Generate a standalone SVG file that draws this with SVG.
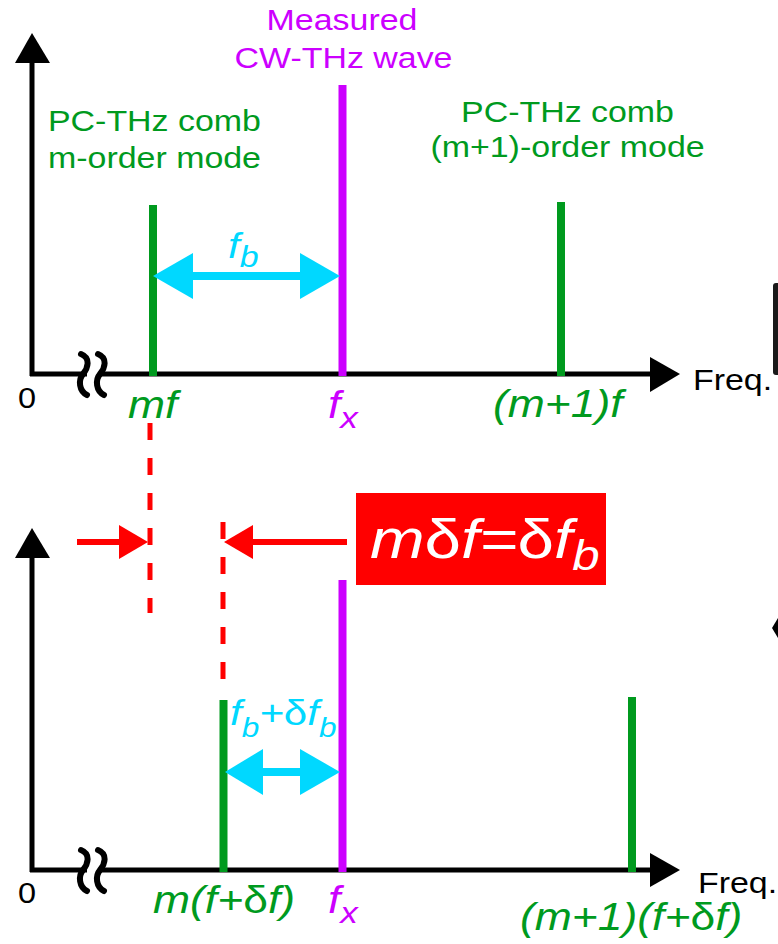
<svg xmlns="http://www.w3.org/2000/svg" width="778" height="944" viewBox="0 0 778 944">
<style>
text{font-family:"Liberation Sans",Arial,sans-serif}
.lbl{font-size:29px}
.it{font-style:italic}
.up{font-style:normal}
.g{fill:#009a1e}
.mg{fill:#cc00ff}
.cy{fill:#00d8ff}
.k{fill:#000}
.w{fill:#fff}
.ax{stroke:#000;stroke-width:5;fill:none}
.brk{stroke:#000;stroke-width:6;fill:none;stroke-linecap:round}
.gl{stroke:#009a1e;stroke-width:8}
.ml{stroke:#cc00ff;stroke-width:8}
.cl{stroke:#00d8ff;stroke-width:8}
.rl{stroke:#ff0000;stroke-width:6}
.rd{stroke:#ff0000;stroke-width:5;stroke-dasharray:17 18}
</style>
<rect width="778" height="944" fill="#fff"/>

<g id="top-axes">
  <line class="ax" x1="32" y1="60" x2="32" y2="376"/>
  <polygon points="32,33 15,63 50,63" fill="#000"/>
  <line class="ax" x1="30" y1="374" x2="652" y2="374"/>
  <polygon points="680,374 650,357 650,392" fill="#000"/>
  <rect x="87" y="368" width="12" height="12" fill="#fff"/>
  <path class="brk" d="M81 354 C91 358 88 368 83 374 C78 380 79 391 87 395"/>
  <path class="brk" d="M98 354 C108 358 105 368 100 374 C95 380 96 391 104 395"/>
  <text class="lbl k" font-size="30" transform="translate(18 408) scale(1.12 1)">0</text>
  <text class="lbl k" transform="translate(693 390) scale(1.17 1)">Freq.</text>
</g>

<g id="bottom-axes">
  <line class="ax" x1="32" y1="556" x2="32" y2="872"/>
  <polygon points="32,528 15,558 50,558" fill="#000"/>
  <line class="ax" x1="30" y1="870" x2="652" y2="870"/>
  <polygon points="680,870 650,853 650,887" fill="#000"/>
  <rect x="87" y="864" width="12" height="12" fill="#fff"/>
  <path class="brk" d="M81 850 C91 854 88 864 83 870 C78 876 79 887 87 891"/>
  <path class="brk" d="M98 850 C108 854 105 864 100 870 C95 876 96 887 104 891"/>
  <text class="lbl k" font-size="30" transform="translate(18 903) scale(1.12 1)">0</text>
  <text class="lbl k" transform="translate(698 893) scale(1.17 1)">Freq.</text>
</g>

<g id="top-m-mode">
  <line class="gl" x1="153" y1="205" x2="153" y2="376"/>
  <text class="lbl g" transform="translate(48 131) scale(1.17 1)">PC-THz comb</text>
  <text class="lbl g" transform="translate(48 168) scale(1.17 1)">m-order mode</text>
  <text class="it g" font-size="38" transform="translate(128 418) scale(1.17 1)">mf</text>
</g>

<g id="top-cw">
  <line class="ml" x1="342.5" y1="85" x2="342.5" y2="376"/>
  <text class="lbl mg" text-anchor="middle" transform="translate(342 30) scale(1.17 1)">Measured</text>
  <text class="lbl mg" text-anchor="middle" transform="translate(343.5 68) scale(1.17 1)">CW-THz wave</text>
  <text class="it mg" font-size="38" transform="translate(328 418) scale(1.17 1)">f<tspan font-size="30" dy="10">x</tspan></text>
</g>

<g id="top-m1-mode">
  <line class="gl" x1="561" y1="202" x2="561" y2="376"/>
  <text class="lbl g" text-anchor="middle" transform="translate(567.5 122) scale(1.17 1)">PC-THz comb</text>
  <text class="lbl g" text-anchor="middle" transform="translate(567.5 157) scale(1.17 1)">(m+1)-order mode</text>
  <text class="it g" font-size="38" transform="translate(493 417) scale(1.17 1)">(m+1)f</text>
</g>

<g id="bottom-m-mode">
  <line class="gl" x1="223.5" y1="700" x2="223.5" y2="872"/>
  <text class="it g" font-size="38" transform="translate(153 913) scale(1.17 1)">m(f+<tspan class="up">δ</tspan>f)</text>
</g>

<g id="bottom-cw">
  <line class="ml" x1="342.5" y1="580" x2="342.5" y2="872"/>
  <text class="it mg" font-size="38" transform="translate(328 913) scale(1.17 1)">f<tspan font-size="30" dy="10">x</tspan></text>
</g>

<g id="bottom-m1-mode">
  <line class="gl" x1="632" y1="697" x2="632" y2="872"/>
  <text class="it g" font-size="38" transform="translate(520 930) scale(1.17 1)">(m+1)(f+<tspan class="up">δ</tspan>f)</text>
</g>

<g id="formula">
  <rect x="356" y="493" width="250" height="92" fill="#ff0000"/>
  <text class="it w" font-size="56" transform="translate(370 558) scale(1.17 1)">m<tspan class="up">δ</tspan>f=<tspan class="up">δ</tspan>f<tspan font-size="42" dy="12">b</tspan></text>
</g>

<g id="edge-shapes">
  <rect x="773" y="283" width="20" height="92" rx="3" fill="#1a1a1a"/>
  <polygon points="772,628 778,618 778,638" fill="#000"/>
</g>

<g id="connectors">
  <line class="cl" x1="190" y1="276" x2="302" y2="276"/>
  <polygon points="153,276 193,253 193,299" fill="#00d8ff"/>
  <polygon points="340,276 300,253 300,299" fill="#00d8ff"/>
  <text class="it cy" font-size="36" transform="translate(228 258) scale(1.17 1)">f<tspan font-size="29" dy="9">b</tspan></text>

  <line class="cl" x1="260" y1="772" x2="302" y2="772"/>
  <polygon points="225,772 263,749 263,795" fill="#00d8ff"/>
  <polygon points="340,772 300,749 300,795" fill="#00d8ff"/>
  <text class="it cy" font-size="36" transform="translate(230 725) scale(1.17 1)">f<tspan font-size="27" dy="12">b</tspan><tspan dy="-12">+</tspan><tspan class="up">δ</tspan>f<tspan font-size="27" dy="12">b</tspan></text>

  <line class="rd" x1="150" y1="423" x2="150" y2="613"/>
  <line class="rd" x1="223" y1="522" x2="223" y2="680"/>
  <line class="rl" x1="77" y1="542" x2="122" y2="542"/>
  <polygon points="148,542 119,525 119,559" fill="#ff0000"/>
  <line class="rl" x1="347" y1="542" x2="250" y2="542"/>
  <polygon points="224,542 253,525 253,559" fill="#ff0000"/>
</g>
</svg>
